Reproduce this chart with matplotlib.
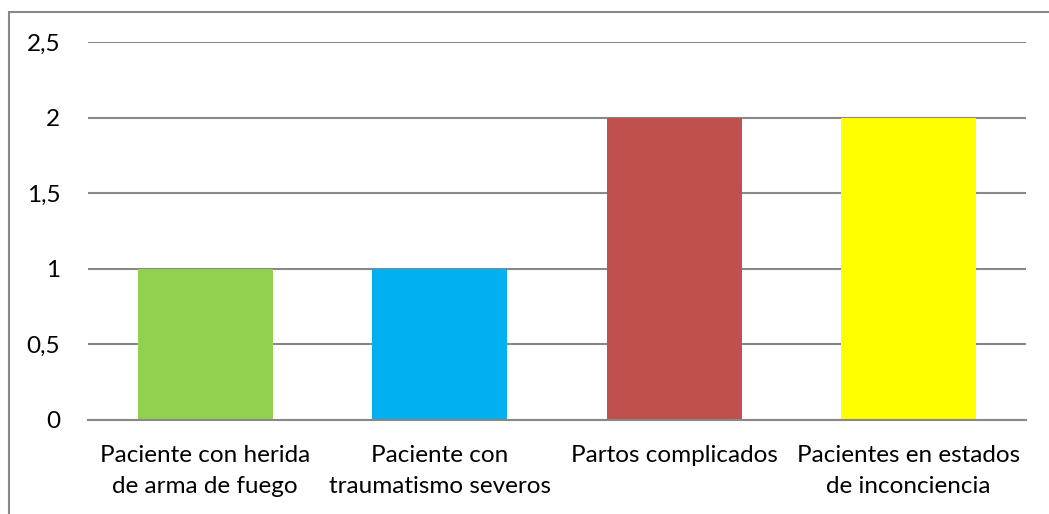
import matplotlib.pyplot as plt
from matplotlib.patches import Rectangle
from matplotlib.ticker import FuncFormatter

categories = ['Paciente con herida\nde arma de fuego',
              'Paciente con\ntraumatismo severos',
              'Partos complicados',
              'Pacientes en estados\nde inconciencia']
values = [1, 1, 2, 2]
colors = ['#92D050', '#00B0F0', '#C0504D', '#FFFF00']
yticks = [0, 0.5, 1, 1.5, 2, 2.5]

plt.rcParams['font.family'] = ['Lato', 'DejaVu Sans']

fig = plt.figure(figsize=(10.49, 5.14), dpi=100)
ax = fig.add_axes([88 / 1049, 1 - 420 / 514, (1026 - 88) / 1049, (420 - 42) / 514])

# outer chart border (only left and top visible in the crop)
fig.patches.append(Rectangle((9 / 1049, -0.1), 1.2, 1 - 12 / 514 + 0.1,
                             transform=fig.transFigure, fill=False,
                             edgecolor='#888888', linewidth=1.5))

ax.bar(range(len(values)), values, width=0.576, color=colors, zorder=2)
ax.set_xlim(-0.5, 3.5)
ax.set_ylim(0, 2.5)
ax.set_yticks(yticks)
ax.yaxis.set_major_formatter(FuncFormatter(lambda v, p: ('%g' % v).replace('.', ',')))
ax.grid(axis='y', color='#888888', linewidth=1.5, zorder=1)
ax.set_xticks(range(len(categories)))
ax.set_xticklabels(categories, linespacing=1.6)
ax.tick_params(axis='y', length=0, pad=20, labelsize=17.5)
ax.tick_params(axis='x', length=0, pad=18, labelsize=17.5)
for s in ['top', 'right', 'left']:
    ax.spines[s].set_visible(False)
ax.spines['bottom'].set_color('#888888')
ax.spines['bottom'].set_linewidth(1.5)

fig.savefig('out.png', dpi=100)
